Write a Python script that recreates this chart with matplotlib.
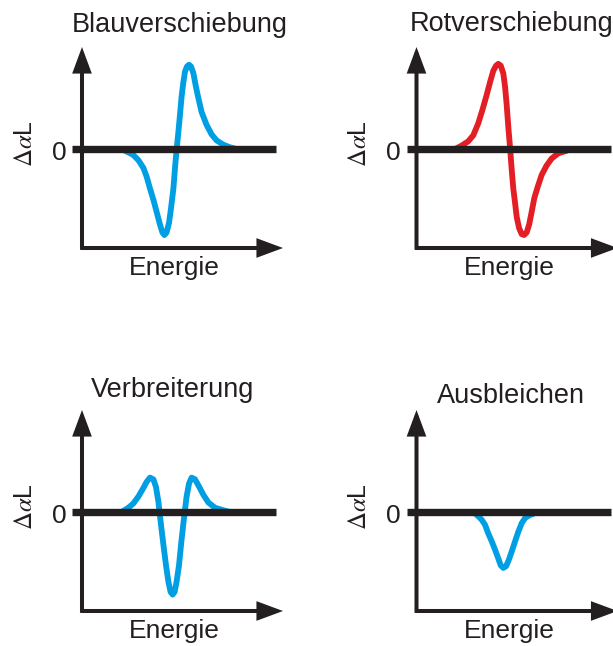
import matplotlib
matplotlib.use("Agg")
import matplotlib.pyplot as plt

plt.rcParams["font.family"] = ["Liberation Sans", "DejaVu Sans"]
plt.rcParams["mathtext.fontset"] = "stix"

BLUE = "#009fe3"
RED = "#e31e24"
INK = "#231f20"

# ---- labels -------------------------------------------------------------
titles = ["Blauverschiebung", "Rotverschiebung", "Verbreiterung", "Ausbleichen"]
x_label = "Energie"
y_label = r"$\Delta\alpha$L"
zero_label = "0"

# ---- schematic difference spectra (energy, ΔαL) -------------------------
blue_x = [1.98, 2.32, 2.57, 2.82, 3.07, 3.23, 3.40, 3.57, 3.73, 3.90, 4.02,
          4.12, 4.23, 4.35, 4.45, 4.57, 4.65, 4.73, 4.82, 4.90, 4.98, 5.07,
          5.15, 5.25, 5.35, 5.45, 5.57, 5.70, 5.82, 5.98, 6.23, 6.48, 6.73,
          7.07, 7.40, 7.73]
blue_y = [0.0, -0.04, -0.07, -0.13, -0.22, -0.32, -0.46, -0.59, -0.73, -0.88,
          -0.97, -1.0, -0.97, -0.86, -0.69, -0.46, -0.22, -0.01, 0.20, 0.40,
          0.61, 0.78, 0.90, 0.96, 0.98, 0.96, 0.88, 0.72, 0.59, 0.43, 0.28,
          0.17, 0.10, 0.05, 0.02, 0.0]

red_x = [1.93, 2.26, 2.59, 2.84, 3.09, 3.29, 3.51, 3.68, 3.84, 3.98, 4.09,
         4.21, 4.34, 4.43, 4.51, 4.59, 4.68, 4.76, 4.84, 4.93, 5.01, 5.13,
         5.26, 5.38, 5.51, 5.63, 5.76, 5.89, 6.06, 6.26, 6.51, 6.76, 7.09,
         7.51, 7.65]
red_y = [0.0, 0.04, 0.09, 0.16, 0.30, 0.45, 0.63, 0.78, 0.91, 0.97, 0.99,
         0.97, 0.88, 0.72, 0.51, 0.26, 0.01, -0.24, -0.46, -0.63, -0.79,
         -0.92, -0.99, -1.0, -0.97, -0.88, -0.73, -0.57, -0.44, -0.30, -0.19,
         -0.11, -0.05, -0.02, 0.0]

broad_x = [1.98, 2.32, 2.57, 2.82, 3.07, 3.23, 3.40, 3.57, 3.70, 3.82, 3.93,
           4.07, 4.20, 4.32, 4.43, 4.53, 4.63, 4.73, 4.85, 4.97, 5.10, 5.23,
           5.35, 5.48, 5.65, 5.82, 6.07, 6.32, 6.65, 7.07, 7.40]
broad_y = [0.0, 0.05, 0.10, 0.18, 0.28, 0.35, 0.40, 0.38, 0.29, 0.12, -0.11,
           -0.38, -0.62, -0.81, -0.93, -0.96, -0.93, -0.81, -0.62, -0.34,
           -0.07, 0.18, 0.33, 0.40, 0.38, 0.31, 0.20, 0.11, 0.05, 0.02, 0.0]

bleach_x = [2.85, 3.09, 3.26, 3.43, 3.59, 3.76, 3.93, 4.09, 4.21, 4.34, 4.48,
            4.61, 4.76, 4.93, 5.09, 5.26, 5.43, 5.63, 5.84, 5.95]
bleach_y = [0.0, -0.05, -0.09, -0.15, -0.25, -0.34, -0.44, -0.54, -0.62,
            -0.65, -0.63, -0.56, -0.46, -0.34, -0.23, -0.13, -0.07, -0.04,
            -0.02, 0.0]

curves = [(blue_x, blue_y, BLUE), (red_x, red_y, RED),
          (broad_x, broad_y, BLUE), (bleach_x, bleach_y, BLUE)]

# ---- layout (pixels) ----------------------------------------------------
W, H = 613, 646
fig = plt.figure(figsize=(W / 100, H / 100), dpi=100)

PX_X = 20.0      # pixels per energy unit
PX_Y = 86.0      # pixels per ΔαL unit
Y_LO, Y_HI = -1.151, 1.186
X_HI = 10.0

# (y-axis x, x-axis y) for each panel, in pixels from top-left
origins = [(82, 248), (416.5, 248), (82, 611), (416.5, 611)]
# title anchor offsets from (y-axis, zero line) in pixels
title_off = [(98, 117.3), (95, 118), (91, 115.3), (94.5, 109)]

PT = 0.72  # points per pixel at 100 dpi


def label(ax, text, dx, dy, **kw):
    ax.annotate(text, xy=(0, 0), xycoords="data",
                xytext=(dx * PT, dy * PT), textcoords="offset points",
                color=INK, annotation_clip=False, **kw)


for (ox, oy), (cx, cy, col), title, toff in zip(origins, curves, titles, title_off):
    height_px = (Y_HI - Y_LO) * PX_Y
    ax = fig.add_axes([ox / W, (H - oy) / H, X_HI * PX_X / W, height_px / H])
    ax.set_xlim(0, X_HI)
    ax.set_ylim(Y_LO, Y_HI)
    ax.axis("off")

    # spectrum
    ax.plot(cx, cy, color=col, lw=4.2, solid_capstyle="round",
            solid_joinstyle="round", zorder=2, clip_on=False)

    # zero line
    ax.plot([-0.5, 9.7], [0, 0], color=INK, lw=5.3, solid_capstyle="butt",
            zorder=3, clip_on=False)

    arrow = dict(arrowstyle="-|>,head_length=1.35,head_width=0.5",
                 mutation_scale=10, lw=2.9, color=INK,
                 shrinkA=0, shrinkB=0, joinstyle="miter", capstyle="butt")
    # y axis
    ax.annotate("", xy=(0, Y_HI), xytext=(0, Y_LO - 0.02), xycoords="data",
                arrowprops=arrow, annotation_clip=False, zorder=4)
    # x axis
    ax.annotate("", xy=(10.05, Y_LO), xytext=(-0.07, Y_LO), xycoords="data",
                arrowprops=arrow, annotation_clip=False, zorder=4)

    # texts
    label(ax, title, toff[0], toff[1], ha="center", va="baseline", fontsize=19.5)
    label(ax, x_label, 92.5, -125.5, ha="center", va="baseline", fontsize=19)
    label(ax, zero_label, -23, -11, ha="center", va="baseline", fontsize=19)
    label(ax, y_label, -57, 5, ha="center", va="center", fontsize=18,
          rotation=90)

fig.savefig("out.png", dpi=100)
